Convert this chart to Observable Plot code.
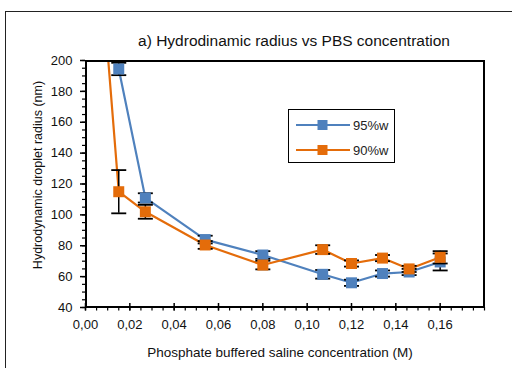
<!DOCTYPE html>
<html><head><meta charset="utf-8">
<script src="https://cdn.jsdelivr.net/npm/d3@7"></script>
<script src="https://cdn.jsdelivr.net/npm/@observablehq/plot@0.6"></script>
<style>
body{margin:0;background:#fff;font-family:"Liberation Sans",Arial,sans-serif;}
#wrap{position:relative;width:512px;height:368px;overflow:hidden;background:#fff;}
#border{position:absolute;left:5px;top:11px;width:700px;height:700px;border:1.5px solid #222;box-sizing:border-box;}
#chart{position:absolute;left:0;top:0;}
#legend{position:absolute;left:288px;top:109px;width:107px;height:54px;border:1.5px solid #000;box-sizing:border-box;background:#fff;font-size:13px;color:#222;}
.row{position:absolute;left:7px;height:14px;display:flex;align-items:center;}
.row svg{display:block;}
.row span{margin-left:3px;}
</style>
</head><body>
<div id="wrap"><div id="border"></div><div id="chart"></div><div id="legend"></div></div>
<script>
// Data
const seriesNames = ["95%w", "90%w"];
const colors = ["#4F81BD", "#E46C0A"];
const conc95 = [0.015, 0.027, 0.054, 0.080, 0.107, 0.120, 0.134, 0.146, 0.160];
const rad95  = [194.5, 111, 84, 74, 61.5, 56, 62, 63, 69.5];
const err95  = [4, 3, 2.5, 2.5, 2.8, 2, 2, 2, 5.5];
const conc90 = [0.010, 0.015, 0.027, 0.054, 0.080, 0.107, 0.120, 0.134, 0.146, 0.160];
const rad90  = [205, 115, 102, 80.5, 67.5, 77.5, 68.5, 72, 65, 72.5];
const err90  = [0, 14, 4.5, 2.5, 2.8, 2.8, 2, 2, 2, 4];
const xMajor = [0, 0.02, 0.04, 0.06, 0.08, 0.10, 0.12, 0.14, 0.16];
const xMinor = d3.range(0, 37).map(i => i * 0.005);
const yMajor = [40, 60, 80, 100, 120, 140, 160, 180, 200];
const yMinor = d3.range(40, 201, 5);
const title = "a) Hydrodinamic radius vs PBS concentration";
const xLabel = "Phosphate buffered saline concentration (M)";
const yLabel = "Hydrodynamic droplet radius (nm)";

const W = 512, H = 368, mL = 85, mR = 28, mT = 60, mB = 61;
const fmt = d => d.toFixed(2).replace(".", ",");
const rows95 = conc95.map((x, i) => ({x, y: rad95[i], e: err95[i]}));
const rows90 = conc90.map((x, i) => ({x, y: rad90[i], e: err90[i]}));
const cap = {draw(ctx, size) { const w = Math.sqrt(size / Math.PI); ctx.moveTo(-w, 0); ctx.lineTo(w, 0); }};

function lineMark(rows, color) {
  return Plot.line(rows, {x: "x", y: "y", stroke: color, strokeWidth: 2.2, clip: true});
}
function errMarks(rows) {
  const errs = rows.filter(d => d.e > 0);
  return [
    Plot.ruleX(errs, {x: "x", y1: d => d.y - d.e, y2: d => d.y + d.e, stroke: "black", strokeWidth: 1.5, clip: true}),
    Plot.dot(errs, {x: "x", y: d => d.y - d.e, symbol: cap, r: 7.5, stroke: "black", strokeWidth: 1.8, clip: true}),
    Plot.dot(errs, {x: "x", y: d => d.y + d.e, symbol: cap, r: 7.5, stroke: "black", strokeWidth: 1.8, clip: true})
  ];
}
function markerMark(rows, color) {
  return Plot.dot(rows, {x: "x", y: "y", symbol: "square", r: 6.2, fill: color, stroke: "none", clip: true});
}

const chart = Plot.plot({
  width: W, height: H,
  marginLeft: mL, marginRight: mR, marginTop: mT, marginBottom: mB,
  style: {fontFamily: "'Liberation Sans', Arial, sans-serif", fontSize: "12px", color: "#111", background: "transparent"},
  x: {domain: [0, 0.18]},
  y: {domain: [40, 200]},
  marks: [
    lineMark(rows95, colors[0]),
    lineMark(rows90, colors[1]),
    ...errMarks(rows95),
    markerMark(rows95, colors[0]),
    ...errMarks(rows90),
    markerMark(rows90, colors[1]),
    Plot.frame({stroke: "black", strokeWidth: 2, strokeOpacity: 1, inset: 0.5}),
    Plot.axisY(yMajor, {tickSize: 5, tickPadding: 8, tickFormat: d => d, label: null, stroke: "black", strokeWidth: 1.5, fontSize: 13}),
    Plot.axisY(yMinor, {tickSize: 3, tickFormat: () => "", label: null, stroke: "black", strokeWidth: 1.2}),
    Plot.axisX(xMinor, {tickSize: 3.5, tickFormat: () => "", label: null, stroke: "black", strokeWidth: 1.2}),
    Plot.axisX(xMajor, {tickSize: 3.5, tickPadding: 9, tickFormat: fmt, label: null, stroke: "black", strokeWidth: 1.5, fontSize: 13}),
    Plot.tickX(xMajor, {x: d => d, insetTop: H - mT - mB - 4, stroke: "black", strokeWidth: 1.5}),
    Plot.text([title], {frameAnchor: "top", text: d => d, dy: -19, dx: 9, lineAnchor: "middle", fontSize: 15.5, fill: "#111"}),
    Plot.text([xLabel], {frameAnchor: "bottom", text: d => d, dy: 45, dx: -5, lineAnchor: "middle", fontSize: 13.5, fill: "#111"}),
    Plot.text([yLabel], {frameAnchor: "left", text: d => d, dx: -48, dy: -9, rotate: -90, textAnchor: "middle", lineAnchor: "middle", fontSize: 12.5, fill: "#111"})
  ]
});
document.getElementById("chart").appendChild(chart);

// Legend
const leg = document.getElementById("legend");
seriesNames.forEach((name, i) => {
  const row = document.createElement("div");
  row.className = "row";
  row.style.top = (i === 0 ? 8 : 33) + "px";
  row.innerHTML = `<svg width="54" height="14"><line x1="0" x2="54" y1="7" y2="7" stroke="${colors[i]}" stroke-width="2.2"/><rect x="21.5" y="2" width="10" height="10" fill="${colors[i]}"/></svg><span>${name}</span>`;
  leg.appendChild(row);
});
</script>
</body></html>
